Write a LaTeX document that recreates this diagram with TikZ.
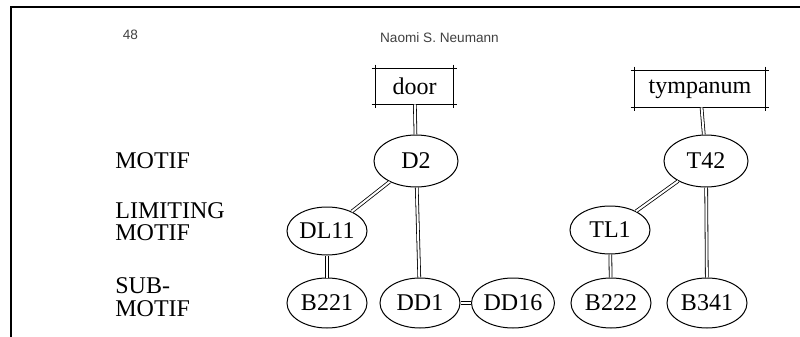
\documentclass[tikz,border=0pt]{standalone}
\usepackage{fontspec}
\setmainfont{Liberation Serif}
\newfontfamily\headfont{Liberation Sans}
\usetikzlibrary{shapes.geometric}
\begin{document}
\begin{tikzpicture}[x=0.5pt,y=-0.5pt,
  motif/.style={ellipse,draw,line width=0.5pt,minimum width=40pt,minimum height=24pt,inner sep=0pt,font=\fontsize{12}{14}\selectfont},
  topmotif/.style={motif,minimum width=42pt,minimum height=26pt},
  elem/.style={rectangle,minimum height=17.5pt,inner sep=0pt,font=\fontsize{12}{14}\selectfont},
  lvl/.style={anchor=base west,inner sep=0pt,font=\fontsize{12}{14}\selectfont},
  head/.style={inner sep=0pt,text=black!75,font=\headfont\fontsize{6.8}{8}\selectfont},
  link/.style={double,double distance=1pt,line width=0.4pt}]
\useasboundingbox (0,0) rectangle (800,337);
\draw[line width=1pt] (11,337) -- (11,7) -- (800,7);
\node[head] (page) at (130.5,35) {48};
\node[head] (author) at (439.5,37.5) {Naomi S. Neumann};
\node[lvl] (lvmotif) at (115,169) {MOTIF};
\node[lvl] (lvlim) at (115,218) {LIMITING};
\node[lvl] (lvlimb) at (115,240.5) {MOTIF};
\node[lvl] (lvsub) at (115,293.5) {SUB-};
\node[lvl] (lvsubb) at (115,316) {MOTIF};
\node[elem,minimum width=38.5pt] (door) at (414.5,86.5) {door};
\node[elem,minimum width=65pt,minimum height=18pt] (tymp) at (700,89) {tympanum};
\foreach \b in {door,tymp}
{   \draw[line width=0.4pt] ([xshift=-2pt]\b.north west) -- ([xshift=2pt]\b.north east);
    \draw[line width=0.4pt] ([xshift=-2pt]\b.south west) -- ([xshift=2pt]\b.south east);
    \draw[line width=0.4pt] ([yshift=2pt]\b.north west) -- ([yshift=-2pt]\b.south west);
    \draw[line width=0.4pt] ([yshift=2pt]\b.north east) -- ([yshift=-2pt]\b.south east);
}
\node[topmotif] (d2) at (416,161) {D2};
\node[topmotif] (t42) at (706,161) {T42};
\node[motif] (dl11) at (327,231) {DL11};
\node[motif] (tl1) at (610,230) {TL1};
\node[motif,minimum height=25pt] (b221) at (327,303) {B221};
\node[motif,minimum height=25pt] (dd1) at (420,303) {DD1};
\node[motif,minimum height=25pt] (dd16) at (513,303) {DD16};
\node[motif,minimum height=25pt] (b222) at (611,303) {B222};
\node[motif,minimum height=25pt] (b341) at (707,303) {B341};
\draw[link] (door) -- (d2);
\draw[link] (d2) -- (dl11);
\draw[link] (d2) -- (dd1);
\draw[link] (dl11) -- (b221);
\draw[link] (dd1) -- (dd16);
\draw[link] (tymp) -- (t42);
\draw[link] (t42) -- (tl1);
\draw[link] (t42) -- (b341);
\draw[link] (tl1) -- (b222);
\end{tikzpicture}
\end{document}
